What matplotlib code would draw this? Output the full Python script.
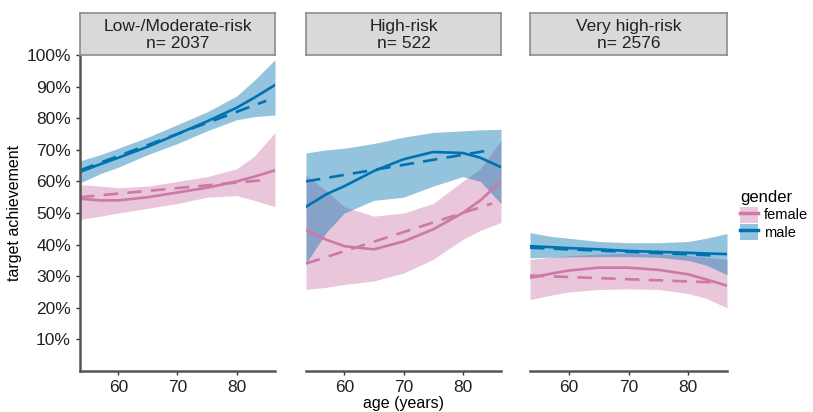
import matplotlib
matplotlib.use('Agg')
import matplotlib.pyplot as plt
from matplotlib.patches import Patch
from matplotlib.lines import Line2D
from matplotlib.ticker import PercentFormatter

plt.rcParams['font.family'] = ['Liberation Sans', 'DejaVu Sans']

panels = ['Low-/Moderate-risk\nn= 2037', 'High-risk\nn= 522', 'Very high-risk\nn= 2576']
age = [53.5, 57, 60, 65, 70, 75, 80, 83, 86.5]
age_lin = [53.5, 85]

# loess fits (solid) with confidence bands, values in %
male_fit = [[63, 65.5, 67.5, 71, 75, 79, 83.3, 86.5, 90.5],
            [52, 56, 58.5, 63.3, 67, 69.3, 69, 67.5, 64.5],
            [39.5, 39.2, 38.9, 38.5, 38, 37.7, 37.4, 37.2, 37]]
male_lo = [[59.5, 62.5, 64.5, 68.5, 72, 76, 79.5, 80.5, 81],
           [34, 44, 50, 54, 55, 58.5, 61.5, 60, 53],
           [35.8, 36, 36.1, 36.2, 36.2, 36, 35, 33.5, 30.5]]
male_hi = [[66.5, 68.5, 70.5, 74, 78, 82, 87, 92, 98.5],
           [69, 70, 70.5, 72, 74, 75.5, 76, 76.3, 76.5],
           [43.8, 42.6, 42, 41, 40.6, 40.6, 41, 42, 43.5]]
female_fit = [[54.5, 54, 54, 55, 56.5, 58, 60, 61.5, 63.5],
              [44.5, 41.5, 39.5, 38.5, 41, 44.8, 50, 54, 60],
              [29.5, 30.8, 31.8, 32.7, 32.7, 32, 30.6, 29, 27]]
female_lo = [[48, 49, 50, 51.5, 53, 55, 55.5, 54, 52],
             [25.8, 26.5, 27.4, 28.5, 31, 35.3, 41.6, 44.5, 47],
             [22.6, 24, 25, 25.8, 26, 25.8, 24.5, 23, 20]]
female_hi = [[59, 58.5, 58, 58.5, 60, 61.5, 64, 68, 75.5],
             [62, 57, 52, 49, 50, 53, 60, 64, 73],
             [35.3, 36, 36.5, 37, 37.2, 37, 36.5, 36, 35.3]]
# linear fits (dashed)
male_lin = [[63.5, 85.5], [60, 70], [39, 36.5]]
female_lin = [[55, 60.5], [34, 53], [30.2, 28]]

c_male = '#0072B2'
c_female = '#CC79A7'
alpha = 0.42

fig = plt.figure(figsize=(8.13, 4.12), dpi=100)
lefts = [80, 306, 530]
widths = [195, 195, 197]
H, W = 412, 813
bottom = 1 - 371 / H
top = 1 - 55 / H

for i in range(3):
    ax = fig.add_axes([lefts[i] / W, bottom, widths[i] / W, top - bottom])
    # female first, male drawn on top
    ax.fill_between(age, [v / 100 for v in female_lo[i]], [v / 100 for v in female_hi[i]],
                    color=c_female, alpha=alpha, lw=0)
    ax.fill_between(age, [v / 100 for v in male_lo[i]], [v / 100 for v in male_hi[i]],
                    color=c_male, alpha=alpha, lw=0)
    ax.plot(age, [v / 100 for v in female_fit[i]], color=c_female, lw=1.9)
    ax.plot(age, [v / 100 for v in male_fit[i]], color=c_male, lw=1.9)
    ax.plot(age_lin, [v / 100 for v in female_lin[i]], color=c_female, lw=1.9, dashes=(5.5, 3.5))
    ax.plot(age_lin, [v / 100 for v in male_lin[i]], color=c_male, lw=1.9, dashes=(5.5, 3.5))

    ax.set_xlim(53.5, 86.5)
    ax.set_ylim(0, 1.0)
    ax.set_xticks([60, 70, 80])
    ax.tick_params(axis='x', labelsize=12.5, colors='#333333', length=3, width=1, labelcolor='#222222')
    for s in ['top', 'right']:
        ax.spines[s].set_visible(False)
    ax.spines['bottom'].set_color('#555555')
    ax.spines['bottom'].set_linewidth(1.8)
    if i == 0:
        ax.set_yticks([k / 10 for k in range(1, 11)])
        ax.yaxis.set_major_formatter(PercentFormatter(1.0, decimals=0))
        ax.tick_params(axis='y', labelsize=12.5, length=3, width=1, colors='#333333', labelcolor='#222222')
        ax.spines['left'].set_color('#555555')
        ax.spines['left'].set_linewidth(1.8)
        ax.set_ylabel('target achievement', fontsize=11.5, labelpad=3)
    else:
        ax.set_yticks([])
        ax.spines['left'].set_visible(False)
    if i == 1:
        ax.set_xlabel('age (years)', fontsize=11.5, labelpad=1)

    # facet strip
    sax = fig.add_axes([lefts[i] / W, 1 - 55 / H, widths[i] / W, 42 / H])
    sax.set_facecolor('#d9d9d9')
    sax.set_xticks([])
    sax.set_yticks([])
    for s in sax.spines.values():
        s.set_color('#8c8c8c')
        s.set_linewidth(1.2)
    sax.text(0.5, 0.47, panels[i], ha='center', va='center', fontsize=12.5,
             color='#222222', transform=sax.transAxes, linespacing=1.15)

handles = [(Patch(facecolor=c_female, alpha=alpha, lw=0), Line2D([], [], color=c_female, lw=2.5)),
           (Patch(facecolor=c_male, alpha=alpha, lw=0), Line2D([], [], color=c_male, lw=2.5))]
leg = fig.legend(handles, ['female', 'male'], title='gender', loc='upper left',
                 bbox_to_anchor=(730 / W, 1 - 180 / H), frameon=False, fontsize=10.5,
                 title_fontsize=12, handlelength=1.2, handleheight=1.3, handletextpad=0.45,
                 labelspacing=0.1, borderpad=0.2)
leg._legend_box.align = 'left'

fig.savefig('out.png', dpi=100)
